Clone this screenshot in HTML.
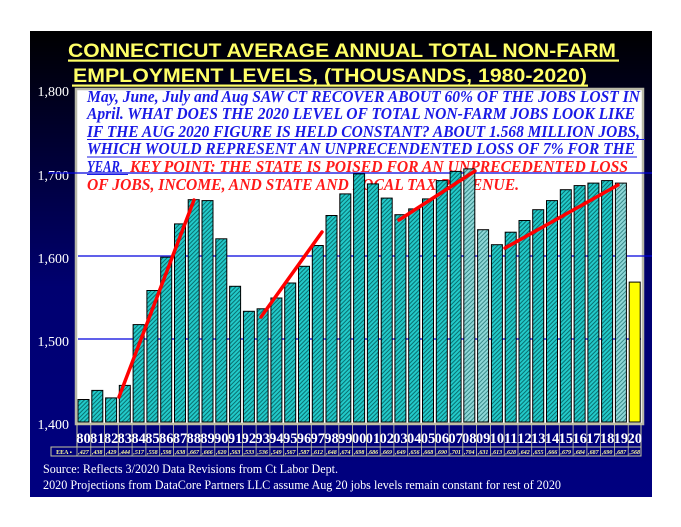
<!DOCTYPE html>
<html><head><meta charset="utf-8"><style>html,body{margin:0;padding:0;background:#fff;}svg{display:block}</style></head>
<body>
<svg width="681" height="527" viewBox="0 0 681 527" xmlns="http://www.w3.org/2000/svg">
<defs>
<linearGradient id="bg" x1="0" y1="0" x2="0" y2="1">
<stop offset="0" stop-color="#000000"/><stop offset="0.55" stop-color="#000070"/><stop offset="1" stop-color="#000080"/>
</linearGradient>
<pattern id="h" patternUnits="userSpaceOnUse" width="3" height="3" patternTransform="rotate(45)">
<rect width="3" height="3" fill="#22caca"/><rect width="1" height="3" fill="#0a6f6f"/>
</pattern>
<pattern id="hl" patternUnits="userSpaceOnUse" width="3" height="3" patternTransform="rotate(45)">
<rect width="3" height="3" fill="#8fd8d8"/><rect width="1" height="3" fill="#3a8a8a"/>
</pattern>
</defs>
<rect x="0" y="0" width="681" height="527" fill="#fff"/>
<rect x="30" y="31" width="622" height="466" fill="url(#bg)"/>
<g font-family="Liberation Sans, sans-serif" font-weight="bold" font-size="19.5" fill="#ffff66" text-anchor="middle">
<text x="342" y="57" textLength="548" lengthAdjust="spacingAndGlyphs">CONNECTICUT AVERAGE ANNUAL TOTAL NON-FARM</text>
<rect x="68" y="59.5" width="551" height="2.2"/>
<text x="330" y="82" textLength="514" lengthAdjust="spacingAndGlyphs">EMPLOYMENT LEVELS, (THOUSANDS, 1980-2020)</text>
<rect x="72" y="84.5" width="516" height="2.2"/>
</g>
<g font-family="Liberation Serif, serif" font-size="14" fill="#fff" text-anchor="end">
<text x="69" y="96">1,800</text><text x="69" y="180">1,700</text><text x="69" y="263">1,600</text><text x="69" y="346">1,500</text><text x="69" y="429">1,400</text>
</g>
<rect x="76" y="89" width="567" height="335" fill="#fff" stroke="#b8b8a8" stroke-width="2.5"/>
<g stroke="#0000dd" stroke-width="1.3">
<line x1="78" y1="339" x2="641" y2="339"/><line x1="78" y1="256" x2="652" y2="256"/><line x1="48" y1="173" x2="652" y2="173"/>
</g>
<g font-family="Liberation Serif, serif" font-weight="bold" font-style="italic" font-size="16.5">
<text x="87" y="102" fill="#1a1ae6" textLength="553" lengthAdjust="spacingAndGlyphs">May, June, July and Aug SAW CT RECOVER ABOUT 60% OF THE JOBS LOST IN</text>
<text x="87" y="119" fill="#1a1ae6" textLength="548" lengthAdjust="spacingAndGlyphs">April. WHAT DOES THE 2020 LEVEL OF TOTAL NON-FARM JOBS LOOK LIKE</text>
<text x="87" y="137" fill="#1a1ae6" textLength="553" lengthAdjust="spacingAndGlyphs">IF THE AUG 2020 FIGURE IS HELD CONSTANT? ABOUT 1.568 MILLION JOBS,</text>
<text x="87" y="154" fill="#1a1ae6" textLength="548" lengthAdjust="spacingAndGlyphs">WHICH WOULD REPRESENT AN UNPRECENDENTED LOSS OF 7% FOR THE</text>
<text x="87" y="172" fill="#1a1ae6" textLength="36" lengthAdjust="spacingAndGlyphs">YEAR.</text>
<text x="130" y="172" fill="#ff1a1a" textLength="498" lengthAdjust="spacingAndGlyphs">KEY POINT: THE STATE IS POISED FOR AN UNPRECEDENTED LOSS</text>
<text x="87" y="190" fill="#ff1a1a" textLength="432" lengthAdjust="spacingAndGlyphs">OF JOBS, INCOME, AND STATE AND LOCAL TAX REVENUE.</text>
</g>
<g stroke="#1a1ae6" stroke-width="1">
<line x1="87" y1="139.5" x2="645" y2="139.5"/><line x1="87" y1="157" x2="637" y2="157"/><line x1="87" y1="174.5" x2="128" y2="174.5"/>
</g>
<g stroke="#000" stroke-width="1">
<g fill="url(#h)">
<rect x="78" y="399.5" width="11" height="22.5"/><rect x="91.8" y="390.4" width="11" height="31.6"/><rect x="105.6" y="397.9" width="11" height="24.1"/><rect x="119.3" y="385.4" width="11" height="36.6"/><rect x="133.1" y="324.6" width="11" height="97.4"/><rect x="146.9" y="290.5" width="11" height="131.5"/><rect x="160.7" y="257.2" width="11" height="164.8"/><rect x="174.5" y="223.9" width="11" height="198.1"/><rect x="188.2" y="199.7" width="11" height="222.3"/><rect x="202" y="200.6" width="11" height="221.4"/><rect x="215.8" y="238.8" width="11" height="183.2"/><rect x="229.6" y="286.3" width="11" height="135.7"/><rect x="243.4" y="311.3" width="11" height="110.7"/><rect x="257.1" y="308.8" width="11" height="113.2"/><rect x="270.9" y="298" width="11" height="124"/><rect x="284.7" y="283" width="11" height="139"/><rect x="298.5" y="266.3" width="11" height="155.7"/><rect x="312.3" y="245.5" width="11" height="176.5"/><rect x="326" y="215.5" width="11" height="206.5"/><rect x="339.8" y="193.9" width="11" height="228.1"/><rect x="353.6" y="173.9" width="11" height="248.1"/><rect x="367.4" y="183.9" width="11" height="238.1"/><rect x="381.2" y="198.1" width="11" height="223.9"/><rect x="394.9" y="214.7" width="11" height="207.3"/><rect x="408.7" y="208.9" width="11" height="213.1"/><rect x="422.5" y="198.9" width="11" height="223.1"/><rect x="436.3" y="180.6" width="11" height="241.4"/><rect x="450.1" y="171.4" width="11" height="250.6"/><rect x="491.4" y="244.7" width="11" height="177.3"/><rect x="505.2" y="232.2" width="11" height="189.8"/><rect x="519" y="220.5" width="11" height="201.5"/><rect x="532.7" y="209.7" width="11" height="212.3"/><rect x="546.5" y="200.6" width="11" height="221.4"/><rect x="560.3" y="189.7" width="11" height="232.3"/><rect x="574.1" y="185.6" width="11" height="236.4"/><rect x="587.9" y="183.1" width="11" height="238.9"/><rect x="601.6" y="180.6" width="11" height="241.4"/>
</g>
<g fill="url(#hl)">
<rect x="463.8" y="168.9" width="11" height="253.1"/><rect x="477.6" y="229.7" width="11" height="192.3"/><rect x="615.4" y="183.1" width="11" height="238.9"/>
</g>
<rect x="629.2" y="282.1" width="11" height="139.9" fill="#ffff00"/>
</g>
<g stroke="#ff0000" stroke-width="3.5" stroke-linecap="round">
<line x1="119" y1="397" x2="194" y2="200"/><line x1="261" y1="317" x2="322" y2="232"/><line x1="399" y1="220" x2="475" y2="171"/><line x1="505" y1="248" x2="618" y2="185"/>
</g>
<g stroke="#c8c8a0" stroke-width="1" fill="none">
<rect x="77" y="424" width="564" height="23"/>
<rect x="51" y="447" width="590" height="9"/>
</g>
<g font-family="Liberation Serif, serif" font-weight="bold" font-size="14.5" fill="#fff" text-anchor="middle">
<text x="83.5" y="443">80</text><text x="97.3" y="443">81</text><text x="111.1" y="443">82</text><text x="124.8" y="443">83</text><text x="138.6" y="443">84</text><text x="152.4" y="443">85</text><text x="166.2" y="443">86</text><text x="180" y="443">87</text><text x="193.7" y="443">88</text><text x="207.5" y="443">89</text><text x="221.3" y="443">90</text><text x="235.1" y="443">91</text><text x="248.9" y="443">92</text><text x="262.6" y="443">93</text><text x="276.4" y="443">94</text><text x="290.2" y="443">95</text><text x="304" y="443">96</text><text x="317.8" y="443">97</text><text x="331.5" y="443">98</text><text x="345.3" y="443">99</text><text x="359.1" y="443">00</text><text x="372.9" y="443">01</text><text x="386.7" y="443">02</text><text x="400.4" y="443">03</text><text x="414.2" y="443">04</text><text x="428" y="443">05</text><text x="441.8" y="443">06</text><text x="455.6" y="443">07</text><text x="469.3" y="443">08</text><text x="483.1" y="443">09</text><text x="496.9" y="443">10</text><text x="510.7" y="443">11</text><text x="524.5" y="443">12</text><text x="538.2" y="443">13</text><text x="552" y="443">14</text><text x="565.8" y="443">15</text><text x="579.6" y="443">16</text><text x="593.4" y="443">17</text><text x="607.1" y="443">18</text><text x="620.9" y="443">19</text><text x="634.7" y="443">20</text>
</g>
<g stroke="#c8c8a0" stroke-width="0.8">
<line x1="90.8" y1="424" x2="90.8" y2="456"/><line x1="104.6" y1="424" x2="104.6" y2="456"/><line x1="118.3" y1="424" x2="118.3" y2="456"/><line x1="132.1" y1="424" x2="132.1" y2="456"/><line x1="145.9" y1="424" x2="145.9" y2="456"/><line x1="159.7" y1="424" x2="159.7" y2="456"/><line x1="173.5" y1="424" x2="173.5" y2="456"/><line x1="187.2" y1="424" x2="187.2" y2="456"/><line x1="201" y1="424" x2="201" y2="456"/><line x1="214.8" y1="424" x2="214.8" y2="456"/><line x1="228.6" y1="424" x2="228.6" y2="456"/><line x1="242.4" y1="424" x2="242.4" y2="456"/><line x1="256.1" y1="424" x2="256.1" y2="456"/><line x1="269.9" y1="424" x2="269.9" y2="456"/><line x1="283.7" y1="424" x2="283.7" y2="456"/><line x1="297.5" y1="424" x2="297.5" y2="456"/><line x1="311.3" y1="424" x2="311.3" y2="456"/><line x1="325" y1="424" x2="325" y2="456"/><line x1="338.8" y1="424" x2="338.8" y2="456"/><line x1="352.6" y1="424" x2="352.6" y2="456"/><line x1="366.4" y1="424" x2="366.4" y2="456"/><line x1="380.2" y1="424" x2="380.2" y2="456"/><line x1="393.9" y1="424" x2="393.9" y2="456"/><line x1="407.7" y1="424" x2="407.7" y2="456"/><line x1="421.5" y1="424" x2="421.5" y2="456"/><line x1="435.3" y1="424" x2="435.3" y2="456"/><line x1="449.1" y1="424" x2="449.1" y2="456"/><line x1="462.8" y1="424" x2="462.8" y2="456"/><line x1="476.6" y1="424" x2="476.6" y2="456"/><line x1="490.4" y1="424" x2="490.4" y2="456"/><line x1="504.2" y1="424" x2="504.2" y2="456"/><line x1="518" y1="424" x2="518" y2="456"/><line x1="531.7" y1="424" x2="531.7" y2="456"/><line x1="545.5" y1="424" x2="545.5" y2="456"/><line x1="559.3" y1="424" x2="559.3" y2="456"/><line x1="573.1" y1="424" x2="573.1" y2="456"/><line x1="586.9" y1="424" x2="586.9" y2="456"/><line x1="600.6" y1="424" x2="600.6" y2="456"/><line x1="614.4" y1="424" x2="614.4" y2="456"/><line x1="628.2" y1="424" x2="628.2" y2="456"/><line x1="77" y1="447" x2="77" y2="456"/>
</g>
<g font-family="Liberation Serif, serif" font-weight="bold" font-style="italic" font-size="6" fill="#ffff99" text-anchor="middle">
<text x="64" y="454" font-style="normal">EEA ▪</text>
<text x="83.5" y="454">,427</text><text x="97.3" y="454">,438</text><text x="111.1" y="454">,429</text><text x="124.8" y="454">,444</text><text x="138.6" y="454">,517</text><text x="152.4" y="454">,558</text><text x="166.2" y="454">,598</text><text x="180" y="454">,638</text><text x="193.7" y="454">,667</text><text x="207.5" y="454">,666</text><text x="221.3" y="454">,620</text><text x="235.1" y="454">,563</text><text x="248.9" y="454">,533</text><text x="262.6" y="454">,536</text><text x="276.4" y="454">,549</text><text x="290.2" y="454">,567</text><text x="304" y="454">,587</text><text x="317.8" y="454">,612</text><text x="331.5" y="454">,648</text><text x="345.3" y="454">,674</text><text x="359.1" y="454">,698</text><text x="372.9" y="454">,686</text><text x="386.7" y="454">,669</text><text x="400.4" y="454">,649</text><text x="414.2" y="454">,656</text><text x="428" y="454">,668</text><text x="441.8" y="454">,690</text><text x="455.6" y="454">,701</text><text x="469.3" y="454">,704</text><text x="483.1" y="454">,631</text><text x="496.9" y="454">,613</text><text x="510.7" y="454">,628</text><text x="524.5" y="454">,642</text><text x="538.2" y="454">,655</text><text x="552" y="454">,666</text><text x="565.8" y="454">,679</text><text x="579.6" y="454">,684</text><text x="593.4" y="454">,687</text><text x="607.1" y="454">,690</text><text x="620.9" y="454">,687</text><text x="634.7" y="454">,568</text>
</g>
<g font-family="Liberation Serif, serif" font-size="13" fill="#fff">
<text x="43" y="473" textLength="295" lengthAdjust="spacingAndGlyphs">Source: Reflects 3/2020 Data Revisions from Ct Labor Dept.</text>
<text x="43" y="489" textLength="518" lengthAdjust="spacingAndGlyphs">2020 Projections from DataCore Partners LLC assume Aug 20 jobs levels remain constant for rest of 2020</text>
</g>
</svg>
</body></html>
